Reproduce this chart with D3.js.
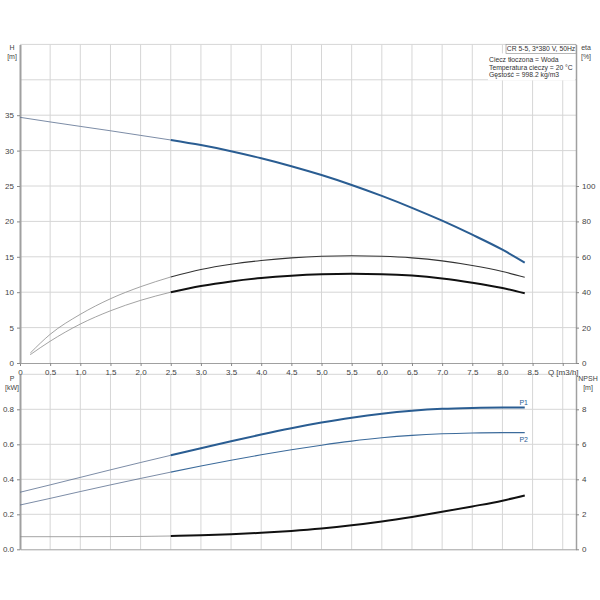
<!DOCTYPE html>
<html>
<head>
<meta charset="utf-8">
<script src="https://cdn.jsdelivr.net/npm/d3@7"></script>
<style>
  body { margin: 0; background: #fff; }
  text { font-family: "Liberation Sans", Arial, sans-serif; }
</style>
</head>
<body>
<svg></svg>
<script>
// flow values for every curve (m3/h)
const flow = [0, 0.5, 1.0, 1.5, 2.0, 2.5, 3.0, 3.5, 4.0, 4.5, 5.0, 5.5, 6.0, 6.5, 7.0, 7.5, 8.0, 8.37];
const head = [34.7, 34.05, 33.42, 32.8, 32.15, 31.5, 30.78, 29.92, 28.92, 27.8, 26.55, 25.15, 23.6, 21.92, 20.1, 18.12, 16.0, 14.17];

const etaFlow = [0.17, 0.5, 1.0, 1.5, 2.0, 2.5, 3.0, 3.5, 4.0, 4.5, 5.0, 5.5, 6.0, 6.5, 7.0, 7.5, 8.0, 8.37];
const etaPump = [5.6, 16.2, 27.5, 36.3, 43.1, 48.6, 52.8, 55.8, 57.9, 59.4, 60.3, 60.6, 60.3, 59.4, 57.7, 55.1, 51.7, 48.4];
const etaTotal = [4.7, 12.3, 22.0, 29.5, 35.4, 40.0, 43.5, 46.1, 48.0, 49.3, 50.1, 50.4, 50.2, 49.4, 47.8, 45.4, 42.4, 39.4];

const powerP1 = [0.326, 0.368, 0.411, 0.454, 0.496, 0.537, 0.577, 0.617, 0.656, 0.692, 0.724, 0.752, 0.775, 0.792, 0.803, 0.808, 0.810, 0.810];
const powerP2 = [0.253, 0.291, 0.330, 0.368, 0.405, 0.441, 0.476, 0.509, 0.540, 0.569, 0.595, 0.618, 0.637, 0.651, 0.660, 0.665, 0.667, 0.667];
const npsh = [0.72, 0.72, 0.72, 0.725, 0.735, 0.76, 0.80, 0.86, 0.94, 1.05, 1.19, 1.37, 1.59, 1.85, 2.14, 2.45, 2.78, 3.08];

const dutyStart = 2.5; // curves are drawn bold from here on

const qTicks = [0, 0.5, 1.0, 1.5, 2.0, 2.5, 3.0, 3.5, 4.0, 4.5, 5.0, 5.5, 6.0, 6.5, 7.0, 7.5, 8.0, 8.5, 9.0];
const hTicks = [0, 5, 10, 15, 20, 25, 30, 35];
const hGrid = [5, 10, 15, 20, 25, 30, 35, 40, 45];
const etaTicks = [0, 20, 40, 60, 80, 100];
const pTicks = [0, 0.2, 0.4, 0.6, 0.8];
const pGrid = [0.2, 0.4, 0.6, 0.8, 1.0];
const npshTicks = [0, 2, 4, 6, 8];

const infoTitle = "CR 5-5, 3*380 V, 50Hz";
const infoLines = ["Ciecz tłoczona = Woda", "Temperatura cieczy = 20 °C", "Gęstość = 998.2 kg/m3"];

const width = 600, height = 600;
const svg = d3.select("svg")
  .attr("width", width)
  .attr("height", height);

const x = d3.scaleLinear().domain([0, 9.22]).range([20, 576]);
const yH = d3.scaleLinear().domain([0, 45]).range([363, 44.4]);
const yEta = d3.scaleLinear().domain([0, 180]).range([363, 44.4]);
const yP = d3.scaleLinear().domain([0, 1]).range([549.3, 374.3]);
const yN = d3.scaleLinear().domain([0, 10]).range([549.3, 374.3]);

const gridColor = "#d6d6d6";
const axisColor = "#a0a0a0";
const blue = "#2a5d92";

// grid for both panels
function grid(yScale, yValues) {
  const g = svg.append("g");
  const [y0, y1] = yScale.range();
  g.selectAll(".v")
    .data(qTicks.filter(d => d > 0))
    .join("line")
      .attr("x1", d => x(d)).attr("x2", d => x(d))
      .attr("y1", y0).attr("y2", y1)
      .attr("stroke", gridColor).attr("stroke-width", 1);
  g.selectAll(".h")
    .data(yValues)
    .join("line")
      .attr("x1", x.range()[0]).attr("x2", x.range()[1])
      .attr("y1", d => yScale(d)).attr("y2", d => yScale(d))
      .attr("stroke", gridColor).attr("stroke-width", 1);
}
grid(yH, hGrid);
grid(yP, pGrid);

function styleAxis(g) {
  g.select(".domain").attr("stroke", axisColor);
  g.selectAll(".tick line").attr("stroke", "#888");
  g.selectAll(".tick text").attr("fill", "#444").style("font-size", "8px");
}

// top panel axes
svg.append("g")
  .attr("transform", "translate(0," + yH(0) + ")")
  .call(d3.axisBottom(x).tickValues(qTicks).tickSize(3).tickSizeOuter(0)
    .tickFormat(d => d === 0 ? "0" : d === 9 ? "Q [m3/h]" : d.toFixed(1)))
  .call(styleAxis);

svg.append("g")
  .attr("transform", "translate(" + x(0) + ",0)")
  .call(d3.axisLeft(yH).tickValues(hTicks).tickSize(3).tickSizeOuter(0))
  .call(styleAxis)
  .call(g => g.select(".domain").attr("stroke-width", 2));

svg.append("g")
  .attr("transform", "translate(" + x.range()[1] + ",0)")
  .call(d3.axisRight(yEta).tickValues(etaTicks).tickSize(3).tickSizeOuter(0))
  .call(styleAxis)
  .call(g => g.select(".domain").attr("stroke-width", 1.5));

// bottom panel axes
svg.append("g")
  .attr("transform", "translate(0," + yP(0) + ")")
  .call(d3.axisBottom(x).tickValues(qTicks).tickSize(0).tickSizeOuter(0).tickFormat(""))
  .call(styleAxis);

svg.append("g")
  .attr("transform", "translate(" + x(0) + ",0)")
  .call(d3.axisLeft(yP).tickValues(pTicks).tickSize(3).tickSizeOuter(0).tickFormat(d3.format(".1f")))
  .call(styleAxis)
  .call(g => g.select(".domain").attr("stroke-width", 2));

svg.append("g")
  .attr("transform", "translate(" + x.range()[1] + ",0)")
  .call(d3.axisRight(yN).tickValues(npshTicks).tickSize(3).tickSizeOuter(0))
  .call(styleAxis)
  .call(g => g.select(".domain").attr("stroke-width", 1.5));

// axis titles
function title(tx, ty, lines) {
  svg.append("text")
    .attr("x", tx).attr("y", ty)
    .attr("text-anchor", "middle")
    .attr("fill", "#444")
    .style("font-size", "7px")
    .selectAll("tspan")
    .data(lines)
    .join("tspan")
      .attr("x", tx)
      .attr("dy", (d, i) => i === 0 ? 0 : 8.5)
      .text(d => d);
}
title(12, 50, ["H", "[m]"]);
title(586, 50, ["eta", "[%]"]);
title(12, 381, ["P", "[kW]"]);
title(588, 381, ["NPSH", "[m]"]);

// curves: thin before the duty range, bold after
const line = d3.line().curve(d3.curveMonotoneX);

function curve(qs, vs, yScale, thin, bold) {
  const pts = qs.map((q, i) => ({q: q, v: vs[i]}));
  const path = arr => line(arr.map(d => [x(d.q), yScale(d.v)]));
  svg.append("path")
    .attr("fill", "none")
    .attr("stroke", thin.color)
    .attr("stroke-width", thin.width)
    .attr("d", path(pts.filter(d => d.q <= dutyStart)));
  svg.append("path")
    .attr("fill", "none")
    .attr("stroke", bold.color)
    .attr("stroke-width", bold.width)
    .attr("d", path(pts.filter(d => d.q >= dutyStart)));
}

const thinBlue = {color: "#5b6f8f", width: 0.8};
const thinGray = {color: "#8c8c8c", width: 0.8};

curve(flow, head, yH, thinBlue, {color: blue, width: 2});
curve(etaFlow, etaPump, yEta, thinGray, {color: "#333", width: 1.1});
curve(etaFlow, etaTotal, yEta, thinGray, {color: "#111", width: 2});
curve(flow, powerP1, yP, thinBlue, {color: blue, width: 2});
curve(flow, powerP2, yP, thinBlue, {color: "#3c6b9b", width: 1.1});
curve(flow, npsh, yN, thinGray, {color: "#111", width: 2});

// P1 / P2 labels at curve ends
const last = flow.length - 1;
svg.append("text")
  .attr("x", x(flow[last]) - 1).attr("y", yP(powerP1[last]) - 3)
  .attr("text-anchor", "middle").attr("fill", blue)
  .style("font-size", "7px").text("P1");
svg.append("text")
  .attr("x", x(flow[last]) - 1).attr("y", yP(powerP2[last]) + 9)
  .attr("text-anchor", "middle").attr("fill", blue)
  .style("font-size", "7px").text("P2");

// info block, top right
const right = x.range()[1];
svg.append("rect")
  .attr("x", right - 88).attr("y", yH(45) + 9)
  .attr("width", 87).attr("height", 27)
  .attr("fill", "#fff");
svg.append("rect")
  .attr("x", right - 70).attr("y", yH(45))
  .attr("width", 70).attr("height", 9)
  .attr("fill", "#fff").attr("stroke", "#999").attr("stroke-width", 0.7);
svg.append("text")
  .attr("x", right - 35).attr("y", yH(45) + 7)
  .attr("text-anchor", "middle").attr("fill", "#333")
  .style("font-size", "6.8px").text(infoTitle);
svg.append("g").selectAll("text")
  .data(infoLines)
  .join("text")
    .attr("x", right - 87)
    .attr("y", (d, i) => yH(45) + 18 + i * 7.2)
    .attr("fill", "#333")
    .style("font-size", "6.8px")
    .text(d => d);
</script>
</body>
</html>
